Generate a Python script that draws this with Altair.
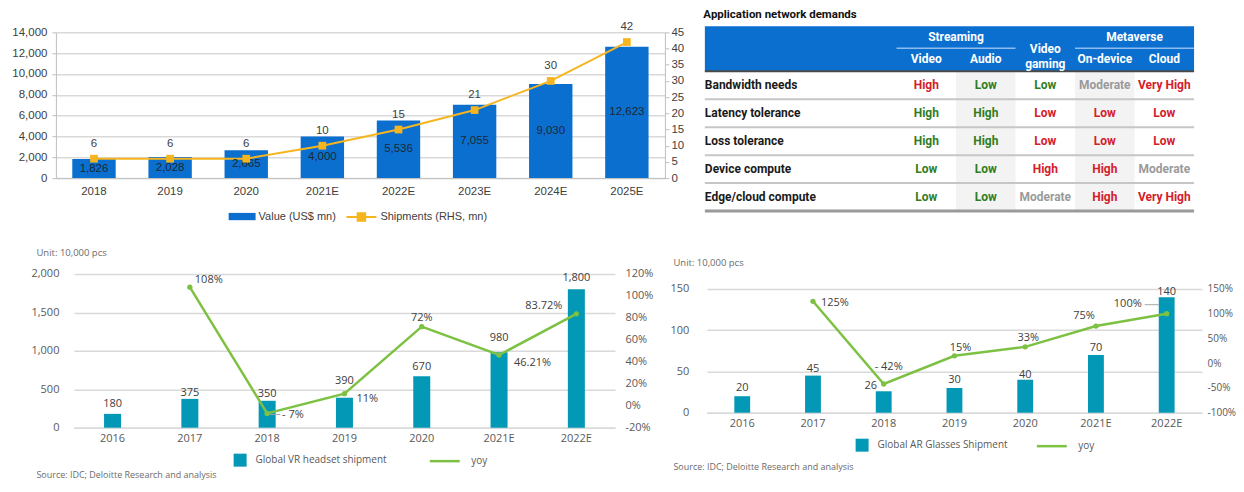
import altair as alt
import pandas as pd

# ====================== DATA ======================
market_years = ["2018", "2019", "2020", "2021E", "2022E", "2023E", "2024E", "2025E"]
market_value = [1826, 2028, 2665, 4000, 5536, 7055, 9030, 12623]
market_shipments = [6, 6, 6, 10, 15, 21, 30, 42]
market_value_name = "Value (US$ mn)"
market_ship_name = "Shipments (RHS, mn)"

table_title = "Application network demands"
table_rows = ["Bandwidth needs", "Latency tolerance", "Loss tolerance",
              "Device compute", "Edge/cloud compute"]
table_cols = ["Video", "Audio", "Video gaming", "On-device", "Cloud"]
table_col_groups = ["Streaming", "Streaming", "", "Metaverse", "Metaverse"]
table_values = [
    ["High", "Low", "Low", "Moderate", "Very High"],
    ["High", "High", "Low", "Low", "Low"],
    ["High", "High", "Low", "Low", "Low"],
    ["Low", "Low", "High", "High", "Moderate"],
    ["Low", "Low", "Moderate", "High", "Very High"],
]
table_tones = [
    ["bad", "good", "good", "neutral", "bad"],
    ["good", "good", "bad", "bad", "bad"],
    ["good", "good", "bad", "bad", "bad"],
    ["good", "good", "bad", "bad", "neutral"],
    ["good", "good", "neutral", "bad", "bad"],
]

xr_years = ["2016", "2017", "2018", "2019", "2020", "2021E", "2022E"]
vr_units = [180, 375, 350, 390, 670, 980, 1800]
vr_yoy = [None, 108, -7, 11, 72, 46.21, 83.72]
vr_yoy_text = ["", "108%", "- 7%", "11%", "72%", "46.21%", "83.72%"]
ar_units = [20, 45, 26, 30, 40, 70, 140]
ar_yoy = [None, 125, -42, 15, 33, 75, 100]
ar_yoy_text = ["", "125%", "- 42%", "15%", "33%", "75%", "100%"]
vr_bar_name = "Global VR headset shipment"
ar_bar_name = "Global AR Glasses Shipment"
yoy_name = "yoy"
unit_note = "Unit: 10,000 pcs"
source_note = "Source: IDC; Deloitte Research and analysis"

# ====================== STYLE ======================
F1 = "Liberation Sans"
F2 = "Open Sans"
F3 = "Roboto"
BLUE = "#0B6FD0"
ORANGE = "#F6B51E"
TEAL = "#0399B6"
GREEN = "#7DC143"
INK1 = "#404040"
INK2 = "#595959"
NOTE = "#6b6b6b"
AX1 = "#bfbfbf"
GRID = "#d9d9d9"
LEADER = "#a6a6a6"
T_GOOD = "#2F7D1F"
T_BAD = "#D3202A"
T_NEUTRAL = "#9a9a9a"

# label placements (dx, dy, align) - styling only
vr_bar_place = {"2016": (0, -10), "2017": (0, -6), "2018": (0, -7), "2019": (0, -17),
                "2020": (0, -9), "2021E": (0, -14), "2022E": (0, -11)}
vr_yoy_place = {"2017": (5, -7, "left"), "2018": (15, 2, "left"), "2019": (12, 5, "left"),
                "2020": (0, -9, "center"), "2021E": (15, 8, "left"), "2022E": (-14, -8, "right")}
vr_leaders = {"2018": (8, 1, 10)}          # category: (xOffset, yOffset, length)
ar_bar_place = {"2016": (0, -8), "2017": (0, -7), "2018": (-13, -5), "2019": (0, -8),
                "2020": (0, -5), "2021E": (0, -7), "2022E": (0, -5)}
ar_yoy_place = {"2017": (8, 2, "left"), "2018": (5, -17, "center"), "2019": (6, -8, "center"),
                "2020": (3, -9, "center"), "2021E": (-12, -10, "center"), "2022E": (-25, -10, "right")}
ar_leaders = {"2022E": (-15, -9, 14)}

# ====================== CHART 1: market ======================
M_W, M_H = 610, 152
M_XR = [0, 610]
M_YR = [152, 6]

m = pd.DataFrame({"year": market_years, "value": market_value, "ship": market_shipments})
m["value_label"] = [f"{v:,}" for v in market_value]
m["vname"] = market_value_name
m["sname"] = market_ship_name

x_m = alt.X("year:N",
            scale=alt.Scale(domain=market_years, range=M_XR, paddingInner=0.43, paddingOuter=0.215),
            axis=alt.Axis(title=None, labelAngle=0, labelFont=F1, labelFontSize=11.5,
                          labelColor=INK1, domainColor=AX1, ticks=False, labelPadding=7))
ys_val = alt.Scale(domain=[0, 14000], range=M_YR, nice=False, zero=False)
ys_ship = alt.Scale(domain=[0, 45], range=M_YR, nice=False, zero=False)
base_m = alt.Chart(m)

bars_m = base_m.mark_bar().encode(
    x=x_m,
    y=alt.Y("value:Q", scale=ys_val,
            axis=alt.Axis(title=None, values=list(range(0, 14001, 2000)), format=",d",
                          labelFont=F1, labelFontSize=11.5, labelColor=INK1,
                          domainColor=AX1, tickColor=AX1, tickSize=4, labelPadding=5,
                          grid=True, gridColor=GRID, gridWidth=1.5)),
    fill=alt.Fill("vname:N", scale=alt.Scale(range=[BLUE]),
                  legend=alt.Legend(title=None, orient="none", legendX=173, legendY=177,
                                    symbolType="M-1,-0.27H1V0.27H-1Z", symbolSize=729,
                                    symbolStrokeWidth=0, labelFont=F1, labelFontSize=11,
                                    labelColor=INK1, labelOffset=3)),
)
bar_text_m = base_m.transform_calculate(mid="datum.value / 2").mark_text(
    font=F1, fontSize=11.5, color="#1d2733").encode(
    x=x_m, y=alt.Y("mid:Q", scale=ys_val, axis=None), text="value_label:N")

line_m = base_m.mark_line(strokeWidth=2).encode(
    x=x_m,
    y=alt.Y("ship:Q", scale=ys_ship,
            axis=alt.Axis(orient="right", title=None, values=list(range(0, 46, 5)), grid=False,
                          labelFont=F1, labelFontSize=11.5, labelColor=INK1,
                          domainColor=AX1, tickColor=AX1, tickSize=4, labelPadding=2)),
    stroke=alt.Stroke("sname:N", scale=alt.Scale(range=[ORANGE]),
                      legend=alt.Legend(title=None, orient="none", legendX=290, legendY=175,
                                        symbolType="M-1,0H1M-0.25,-0.25H0.25V0.25H-0.25Z",
                                        symbolSize=900, symbolStrokeWidth=2,
                                        symbolFillColor=ORANGE, labelFont=F1, labelFontSize=11,
                                        labelColor=INK1, labelOffset=3)),
)
pts_m = base_m.mark_square(size=60, opacity=1, color=ORANGE).encode(
    x=x_m, y=alt.Y("ship:Q", scale=ys_ship, axis=None))
ship_text_m = base_m.mark_text(dy=-15, font=F1, fontSize=11.5, color=INK1).encode(
    x=x_m, y=alt.Y("ship:Q", scale=ys_ship, axis=None), text="ship:Q")

market_chart = alt.layer(
    bars_m, line_m, bar_text_m, pts_m, ship_text_m
).resolve_scale(y="independent").properties(width=M_W, height=M_H)

# ====================== TABLE ======================
n_rows = len(table_rows)
n_cols = len(table_cols)
LABEL_W = 3.22          # row-label column width, in value-column units
HEAD_H = 45 / 28        # header height, in row units
GROUP_Y = -1.21
SUB_Y = -0.43
SINGLE_Y = -0.80
UNDER_Y = -0.82

xs_t = alt.Scale(domain=[-LABEL_W, n_cols], nice=False, zero=False)
ys_t = alt.Scale(domain=[-HEAD_H, n_rows], nice=False, zero=False, reverse=True)


def tx(f):
    return alt.X(f, scale=xs_t, axis=None)


def ty(f):
    return alt.Y(f, scale=ys_t, axis=None)


cells = pd.DataFrame([{"row": i, "col": j, "value": table_values[i][j], "tone": table_tones[i][j]}
                      for i in range(n_rows) for j in range(n_cols)])
row_df = pd.DataFrame({"row": list(range(n_rows)), "label": table_rows})
shade_df = pd.DataFrame({"col": [j for j in range(n_cols) if j % 2 == 1]})
frame_df = pd.DataFrame({"x0": [-LABEL_W], "x1": [n_cols], "y0": [-HEAD_H], "y1": [0], "yb": [n_rows]})
sep_df = pd.DataFrame({"y": list(range(1, n_rows)), "x0": -LABEL_W, "x1": n_cols})

groups = []
for j, g in enumerate(table_col_groups):
    if g and (not groups or groups[-1]["group"] != g):
        groups.append({"group": g, "start": j, "end": j + 1})
    elif g:
        groups[-1]["end"] = j + 1
group_df = pd.DataFrame(groups)
sub_df = pd.DataFrame([{"col": j, "label": c} for j, c in enumerate(table_cols) if table_col_groups[j]])
single_df = pd.DataFrame([{"col": j, "label": c} for j, c in enumerate(table_cols) if not table_col_groups[j]])

shade = alt.Chart(shade_df).transform_calculate(
    x1="datum.col + 1", y0="0", y1=str(n_rows)).mark_rect(color="#f3f3f3").encode(
    x=tx("col:Q"), x2="x1:Q", y=ty("y0:Q"), y2="y1:Q")
head_rect = alt.Chart(frame_df).mark_rect(color=BLUE).encode(
    x=tx("x0:Q"), x2="x1:Q", y=ty("y0:Q"), y2="y1:Q")
seps = alt.Chart(sep_df).mark_rule(color="#c6c6c6", strokeWidth=2).encode(
    x=tx("x0:Q"), x2="x1:Q", y=ty("y:Q"))
head_line = alt.Chart(frame_df).mark_rule(color="#4a4a4a", strokeWidth=2).encode(
    x=tx("x0:Q"), x2="x1:Q", y=ty("y1:Q"))
bottom_line = alt.Chart(frame_df).mark_rule(color="#9a9a9a", strokeWidth=3).encode(
    x=tx("x0:Q"), x2="x1:Q", y=ty("yb:Q"))
group_text = alt.Chart(group_df).transform_calculate(
    cx="(datum.start + datum.end) / 2", cy=str(GROUP_Y)).mark_text(
    font=F3, fontSize=12, fontWeight="bold", color="white").encode(
    x=tx("cx:Q"), y=ty("cy:Q"), text="group:N")
group_line = alt.Chart(group_df).transform_calculate(cy=str(UNDER_Y)).mark_rule(
    color="#8dbcf0", strokeWidth=1.5).encode(x=tx("start:Q"), x2="end:Q", y=ty("cy:Q"))
sub_text = alt.Chart(sub_df).transform_calculate(
    cx="datum.col + 0.5", cy=str(SUB_Y)).mark_text(
    font=F3, fontSize=12, fontWeight="bold", color="white").encode(
    x=tx("cx:Q"), y=ty("cy:Q"), text="label:N")
single_text = alt.Chart(single_df).transform_calculate(
    cx="datum.col + 0.5", cy=str(SINGLE_Y)).mark_text(
    font=F3, fontSize=12, fontWeight="bold", color="white", lineBreak=" ", lineHeight=15).encode(
    x=tx("cx:Q"), y=ty("cy:Q"), text="label:N")
row_text = alt.Chart(row_df).transform_calculate(
    cx=str(-LABEL_W), cy="datum.row + 0.5").mark_text(
    font=F3, fontSize=12, fontWeight="bold", color="#1a1a1a", align="left").encode(
    x=tx("cx:Q"), y=ty("cy:Q"), text="label:N")
cell_text = alt.Chart(cells).transform_calculate(
    cx="datum.col + 0.5", cy="datum.row + 0.5").mark_text(
    font=F3, fontSize=12, fontWeight="bold").encode(
    x=tx("cx:Q"), y=ty("cy:Q"), text="value:N",
    color=alt.Color("tone:N", scale=alt.Scale(domain=["good", "bad", "neutral"],
                                              range=[T_GOOD, T_BAD, T_NEUTRAL]), legend=None))

table_chart = alt.layer(
    shade, head_rect, seps, head_line, bottom_line, group_line,
    group_text, sub_text, single_text, row_text, cell_text,
).properties(
    width=490, height=185,
    title=alt.TitleParams(table_title, anchor="start", font=F3, fontSize=11.5,
                          fontWeight="bold", color="#111111", offset=6),
)


# ====================== SHIPMENT CHARTS ======================
def shipment_chart(units, yoy, yoy_text, bar_name, left_domain, left_step, right_domain,
                   right_step, band_pad, w, h, x_range, y_range, left_offset,
                   lab_pad_left, lab_pad_right, right_font, unit_pos, source_pos,
                   bar_leg, line_leg, bar_place, yoy_place, leaders):
    d = pd.DataFrame({"year": xr_years, "units": units, "yoy": yoy, "yoy_text": yoy_text})
    d["unit_text"] = [f"{v:,}" for v in units]
    d["bname"] = bar_name
    d["lname"] = yoy_name
    x = alt.X("year:N",
              scale=alt.Scale(domain=xr_years, range=x_range, paddingInner=band_pad,
                              paddingOuter=band_pad / 2),
              axis=alt.Axis(title=source_note, titleX=source_pos[0], titleY=source_pos[1],
                            titleAlign="left", titleBaseline="middle", titleFont=F2,
                            titleFontSize=9, titleFontWeight="normal", titleColor=NOTE,
                            labelAngle=0, labelFont=F2, labelFontSize=11, labelColor=INK2,
                            ticks=False, domainColor=GRID, domainWidth=1.5, labelPadding=5))
    yl_s = alt.Scale(domain=left_domain, range=y_range, nice=False, zero=False)
    yr_s = alt.Scale(domain=right_domain, range=y_range, nice=False, zero=False)
    yl = alt.Y("units:Q", scale=yl_s,
               axis=alt.Axis(title=unit_note, titleAngle=0, titleX=unit_pos[0], titleY=unit_pos[1],
                             titleAlign="left", titleBaseline="middle", titleFont=F2,
                             titleFontSize=9.5, titleFontWeight="normal", titleColor=NOTE,
                             values=list(range(left_domain[0], left_domain[1] + 1, left_step)),
                             format=",d", labelFont=F2, labelFontSize=11, labelColor=INK2,
                             domain=False, ticks=False, labelPadding=lab_pad_left,
                             offset=left_offset, grid=True, gridColor=GRID, gridWidth=1.5))
    yr = alt.Y("yoy:Q", scale=yr_s,
               axis=alt.Axis(orient="right", title=None,
                             values=list(range(right_domain[0], right_domain[1] + 1, right_step)),
                             labelExpr="datum.value + '%'", labelFont=F2, labelFontSize=right_font,
                             labelColor=INK2, domain=False, ticks=False, grid=False,
                             labelPadding=lab_pad_right))
    base = alt.Chart(d)
    bars = base.mark_bar().encode(
        x=x, y=yl,
        fill=alt.Fill("bname:N", scale=alt.Scale(range=[TEAL]),
                      legend=alt.Legend(title=None, orient="none", legendX=bar_leg[0],
                                        legendY=bar_leg[1], symbolType="square", symbolSize=169,
                                        symbolStrokeWidth=0, labelFont=F2, labelFontSize=10,
                                        labelColor=INK2, labelOffset=9)))
    bar_labels = [
        base.transform_filter(alt.datum.year == cat).mark_text(
            dx=dx, dy=dy, font=F2, fontSize=11, color=INK1).encode(
            x=x, y=alt.Y("units:Q", scale=yl_s, axis=None), text="unit_text:N")
        for cat, (dx, dy) in bar_place.items()
    ]
    line = base.mark_line(strokeWidth=2.5).encode(
        x=x, y=yr,
        stroke=alt.Stroke("lname:N", scale=alt.Scale(range=[GREEN]),
                          legend=alt.Legend(title=None, orient="none", legendX=line_leg[0],
                                            legendY=line_leg[1], symbolType="stroke",
                                            symbolSize=900, symbolStrokeWidth=2.5,
                                            labelFont=F2, labelFontSize=10, labelColor=INK2,
                                            labelOffset=10)))
    leader_marks = [
        base.transform_filter(alt.datum.year == cat).mark_tick(
            xOffset=xo, yOffset=yo, size=ln, thickness=1, color=LEADER, opacity=1).encode(
            x=x, y=alt.Y("yoy:Q", scale=yr_s, axis=None))
        for cat, (xo, yo, ln) in leaders.items()
    ]
    dots = base.mark_circle(size=28, opacity=1, color=GREEN).encode(
        x=x, y=alt.Y("yoy:Q", scale=yr_s, axis=None))
    yoy_labels = [
        base.transform_filter(alt.datum.year == cat).mark_text(
            dx=dx, dy=dy, align=al, font=F2, fontSize=11, color=INK1).encode(
            x=x, y=alt.Y("yoy:Q", scale=yr_s, axis=None), text="yoy_text:N")
        for cat, (dx, dy, al) in yoy_place.items()
    ]
    return alt.layer(
        bars, line, *bar_labels, *leader_marks, dots, *yoy_labels
    ).resolve_scale(y="independent").properties(width=w, height=h)


vr_chart = shipment_chart(vr_units, vr_yoy, vr_yoy_text, vr_bar_name, [0, 2000], 500, [-20, 120], 20,
                          0.78, 560, 154, [18, 560], [154, 0], -18, 15, 10, 11,
                          (-38, -21), (-20, 47), (178, 180), (373, 171),
                          vr_bar_place, vr_yoy_place, vr_leaders)
ar_chart = shipment_chart(ar_units, ar_yoy, ar_yoy_text, ar_bar_name, [0, 150], 50, [-100, 150], 50,
                          0.776, 498, 139, [2, 498], [139, 15], -2, 18, 5, 10,
                          (-34, -11), (-32, 54), (151, 165), (331, 156),
                          ar_bar_place, ar_yoy_place, ar_leaders)

# ====================== LAYOUT ======================
chart = alt.concat(
    market_chart, table_chart, vr_chart, ar_chart,
    columns=2, spacing={"row": 63, "column": 40}, bounds="flush", align="all",
).resolve_scale(
    fill="independent", stroke="independent", color="independent"
).properties(
    padding={"left": 3, "top": 0, "right": 0, "bottom": 0}, background="white"
).configure_view(stroke=None)

chart.save("out.html", embed_options={"renderer": "svg", "actions": False})
